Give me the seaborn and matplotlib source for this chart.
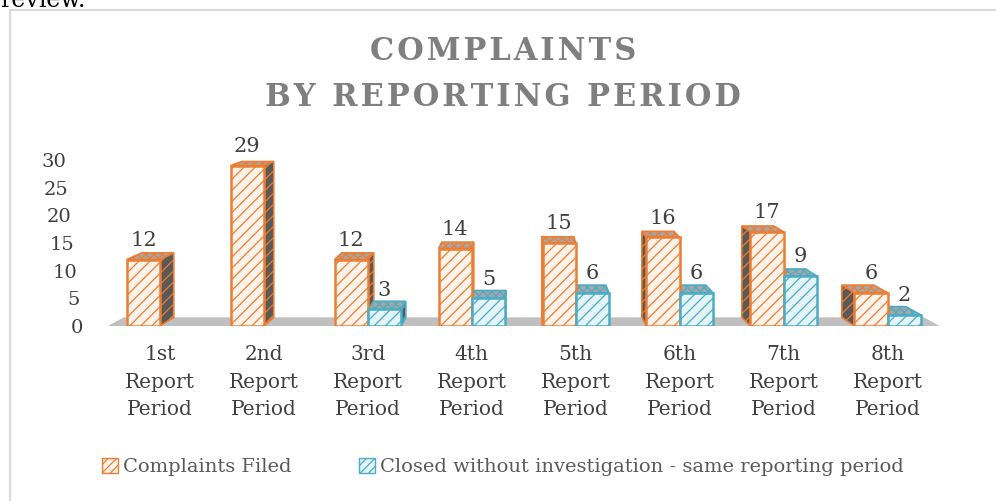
import matplotlib
matplotlib.use("Agg")
import numpy as np
import pandas as pd
import matplotlib.pyplot as plt
import seaborn as sns
from matplotlib.patches import Polygon, Rectangle, Patch
from matplotlib.transforms import ScaledTranslation

# ---- data ----
periods = [
    "1st\nReport\nPeriod", "2nd\nReport\nPeriod", "3rd\nReport\nPeriod",
    "4th\nReport\nPeriod", "5th\nReport\nPeriod", "6th\nReport\nPeriod",
    "7th\nReport\nPeriod", "8th\nReport\nPeriod",
]
complaints_filed = [12, 29, 12, 14, 15, 16, 17, 6]
closed_same_period = [0, 0, 3, 5, 6, 6, 9, 2]
series_names = [
    "Complaints Filed",
    "Closed without investigation - same reporting period",
]
y_ticks = [0, 5, 10, 15, 20, 25, 30]

EDGE = {series_names[0]: "#ED7D31", series_names[1]: "#4BACC6"}
FACE = {series_names[0]: "#FEF3EA", series_names[1]: "#E4F4F8"}
TEXT = "#404040"

# fake 3-D: back faces shrink toward a point above the middle of the chart
VP_X = (len(periods) - 1) / 2
VP_Y = 54
DX = 0.038
DY = 0.029


def back(x, y):
    return x + (VP_X - x) * DX, y + (VP_Y - y) * DY


def spaced(s):
    return "\u200a".join(s)


df = pd.DataFrame({
    "period": periods * 2,
    "count": complaints_filed + closed_same_period,
    "series": [series_names[0]] * len(periods) + [series_names[1]] * len(periods),
})

sns.set_theme(style="white")
plt.rcParams["font.family"] = ["DejaVu Serif"]
plt.rcParams["hatch.linewidth"] = 0.9

fig = plt.figure(figsize=(9.96, 5.01), dpi=100)
ax = fig.add_axes([0.1084, 0.3493, 0.835, 0.3313])

sns.barplot(
    data=df, x="period", y="count", hue="series", hue_order=series_names,
    palette=EDGE, width=0.64, dodge=True, ax=ax, legend=False,
)

# floor
n = len(periods)
floor = Polygon(
    [(-0.5, 0), (n - 0.5, 0), back(n - 0.5, 0), back(-0.5, 0)],
    closed=True, facecolor="#BFBFBF", edgecolor="none", zorder=1,
)
ax.add_patch(floor)

for cont, name in zip(ax.containers, series_names):
    for bar in cont.patches:
        x0 = bar.get_x()
        x1 = x0 + bar.get_width()
        h = bar.get_height()
        if h == 0:
            bar.set_visible(False)
            continue
        bar.set_facecolor(FACE[name])
        bar.set_edgecolor(EDGE[name])
        bar.set_hatch("///")
        bar.set_linewidth(1.8)
        bar.set_zorder(3)

        top = Polygon(
            [(x0, h), (x1, h), back(x1, h), back(x0, h)], closed=True,
            facecolor="#A6A6A6", edgecolor=EDGE[name], hatch="xxxx",
            linewidth=1.2, zorder=2,
        )
        ax.add_patch(top)
        sx = x1 if (x0 + x1) / 2 < VP_X else x0
        side = Polygon(
            [(sx, 0), (sx, h), back(sx, h), back(sx, 0)], closed=True,
            facecolor="#595959", edgecolor=EDGE[name], hatch="///",
            linewidth=1.2, zorder=2,
        )
        ax.add_patch(side)

    vals = [int(b.get_height()) for b in cont.patches]
    ax.bar_label(cont, labels=[str(v) if v else "" for v in vals],
                 padding=7, fontsize=15, color=TEXT)

ax.set_xlim(-0.5, n - 0.5)
ax.set_ylim(0, 30)
ax.set_yticks(y_ticks)
ax.set_yticklabels([str(v) for v in y_ticks])
ax.set_xlabel("")
ax.set_ylabel("")
for s in ax.spines.values():
    s.set_visible(False)
ax.tick_params(axis="y", length=0, pad=18, labelsize=14, labelcolor=TEXT)
ax.tick_params(axis="x", length=0, pad=14, labelsize=14.5, labelcolor=TEXT)
for lab in ax.get_xticklabels():
    lab.set_linespacing(1.55)
# y labels follow the slanted back wall
for lab, v in zip(ax.get_yticklabels(), y_ticks):
    lab.set_transform(lab.get_transform()
                      + ScaledTranslation(-v / 30 * 0.17, 0, fig.dpi_scale_trans))

# title
fig.text(0.505, 1 - 51 / 501, spaced("COMPLAINTS"), ha="center", va="center",
         fontsize=22, fontweight="bold", color="#7F7F7F")
fig.text(0.505, 1 - 97 / 501, spaced("BY REPORTING PERIOD"), ha="center",
         va="center", fontsize=22, fontweight="bold", color="#7F7F7F")

# legend
handles = [Patch(facecolor=FACE[s], edgecolor=EDGE[s], hatch="////") for s in series_names]
fig.legend(handles, series_names, loc="center", bbox_to_anchor=(0.505, 1 - 467 / 501),
           ncol=2, frameon=False, fontsize=14, handlelength=0.8, handleheight=0.8,
           columnspacing=3.5, handletextpad=0.25, labelcolor="#595959")

# chart frame and the cut-off document text above it
fig.add_artist(Rectangle((0.01, -0.1), 1.2, 1.08, transform=fig.transFigure,
                         fill=False, edgecolor="#D9D9D9", linewidth=1.5))
fig.text(0.0, 1 - 7 / 501, "review.", ha="left", va="baseline",
         fontsize=17, color="black")

fig.savefig("out.png", dpi=100)
